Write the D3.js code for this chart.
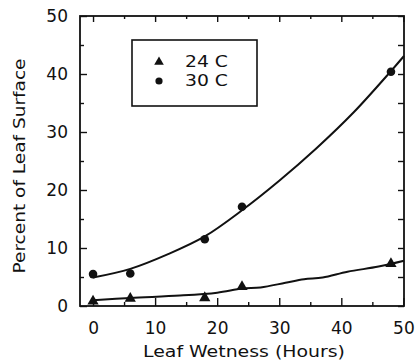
<!DOCTYPE html>
<html>
<head>
  <meta charset="utf-8">
  <script src="https://d3js.org/d3.v7.min.js"></script>
  <style>
  body { margin: 0; background: #fff; }
  text { font-family: "DejaVu Sans", sans-serif; fill: #111; }
  .tick line { stroke: #111; stroke-width: 1.4; }
  </style>
</head>
<body>
<svg id="chart" width="419" height="363"></svg>
<script>
// observed points
var hours = [0, 6, 18, 24, 48];
var pct24 = [0.8, 1.3, 1.4, 3.3, 7.3];
var pct30 = [5.5, 5.6, 11.5, 17.1, 40.4];

// fitted curves
var fit30X = [0, 6, 12, 18, 24, 30, 36, 42, 48, 50.1];
var fit30Y = [4.9, 6.4, 8.9, 12.0, 16.5, 21.6, 27.2, 33.4, 40.5, 43.1];
var fit24X = [0, 6, 14, 20, 24, 27, 31, 34, 37, 41, 46, 50.1];
var fit24Y = [1.0, 1.4, 1.8, 2.3, 3.0, 3.2, 4.0, 4.6, 4.9, 5.9, 6.8, 7.8];

var xMajor = [0, 10, 20, 30, 40, 50];
var xMinor = [5, 15, 25, 35, 45];
var yMajor = [0, 10, 20, 30, 40, 50];
var yMinor = [5, 15, 25, 35, 45];
var legendLabels = ["24 C", "30 C"];

var plotL = 80, plotR = 404, plotT = 16, plotB = 306;

var svg = d3.select("#chart");
var x = d3.scaleLinear().domain([-2.1, 50.1]).range([plotL, plotR]);
var y = d3.scaleLinear().domain([0, 50]).range([plotB, plotT]);

function clean(g) { g.select(".domain").remove(); }

// bottom axis
svg.append("g").attr("transform", "translate(0," + plotB + ")")
  .call(d3.axisBottom(x).tickValues(xMajor).tickSizeInner(-8).tickSizeOuter(0).tickPadding(16))
  .call(clean)
  .selectAll("text").style("font-size", "17px").style("font-family", "DejaVu Sans");
svg.append("g").attr("transform", "translate(0," + plotB + ")")
  .call(d3.axisBottom(x).tickValues(xMinor).tickSize(-4).tickFormat(""))
  .call(clean);

// top axis
svg.append("g").attr("transform", "translate(0," + plotT + ")")
  .call(d3.axisTop(x).tickValues(xMajor).tickSize(-6).tickFormat(""))
  .call(clean);
svg.append("g").attr("transform", "translate(0," + plotT + ")")
  .call(d3.axisTop(x).tickValues(xMinor).tickSize(-3).tickFormat(""))
  .call(clean);

// left axis
svg.append("g").attr("transform", "translate(" + plotL + ",0)")
  .call(d3.axisLeft(y).tickValues(yMajor).tickSizeInner(-7).tickSizeOuter(0).tickPadding(12))
  .call(clean)
  .selectAll("text").style("font-size", "17px").style("font-family", "DejaVu Sans");
svg.append("g").attr("transform", "translate(" + plotL + ",0)")
  .call(d3.axisLeft(y).tickValues(yMinor).tickSize(-4).tickFormat(""))
  .call(clean);

// right axis
svg.append("g").attr("transform", "translate(" + plotR + ",0)")
  .call(d3.axisRight(y).tickValues(yMajor.concat(yMinor)).tickSize(-6).tickFormat(""))
  .call(clean);

// frame
svg.append("rect")
  .attr("x", plotL).attr("y", plotT)
  .attr("width", plotR - plotL).attr("height", plotB - plotT)
  .attr("fill", "none").attr("stroke", "#111").attr("stroke-width", 1.8);

// curves
var line = d3.line().x(function(d) { return x(d[0]); }).y(function(d) { return y(d[1]); })
  .curve(d3.curveCatmullRom);
svg.append("path").datum(d3.zip(fit30X, fit30Y))
  .attr("d", line).attr("fill", "none").attr("stroke", "#111").attr("stroke-width", 2);
svg.append("path").datum(d3.zip(fit24X, fit24Y))
  .attr("d", line).attr("fill", "none").attr("stroke", "#111").attr("stroke-width", 2);

// markers
var tri = d3.symbol().type(d3.symbolTriangle).size(55);
svg.selectAll(".m24").data(d3.zip(hours, pct24)).enter().append("path")
  .attr("class", "m24").attr("d", tri)
  .attr("transform", function(d) { return "translate(" + x(d[0]) + "," + y(d[1]) + ")"; })
  .attr("fill", "#111");
svg.selectAll(".m30").data(d3.zip(hours, pct30)).enter().append("circle")
  .attr("class", "m30")
  .attr("cx", function(d) { return x(d[0]); })
  .attr("cy", function(d) { return y(d[1]); })
  .attr("r", 4.3).attr("fill", "#111");

// legend
var lg = svg.append("g");
lg.append("rect").attr("x", 132).attr("y", 40).attr("width", 125).attr("height", 66)
  .attr("fill", "#fff").attr("stroke", "#111").attr("stroke-width", 1.6);
lg.append("path").attr("d", d3.symbol().type(d3.symbolTriangle).size(40))
  .attr("transform", "translate(159,62)").attr("fill", "#111");
lg.append("circle").attr("cx", 159).attr("cy", 81).attr("r", 3.6).attr("fill", "#111");
lg.selectAll(".lt").data(legendLabels).enter().append("text")
  .attr("x", 185).attr("y", function(d, i) { return 67 + i * 19; })
  .attr("textLength", 43).attr("lengthAdjust", "spacingAndGlyphs")
  .style("font-size", "16px").text(function(d) { return d; });

// axis titles
svg.append("text")
  .attr("x", 244).attr("y", 357).attr("text-anchor", "middle")
  .attr("textLength", 202).attr("lengthAdjust", "spacingAndGlyphs")
  .style("font-size", "16px").text("Leaf Wetness (Hours)");
svg.append("text")
  .attr("transform", "translate(25,166) rotate(-90)")
  .attr("text-anchor", "middle")
  .attr("textLength", 215).attr("lengthAdjust", "spacingAndGlyphs")
  .style("font-size", "16px").text("Percent of Leaf Surface");
</script>
</body>
</html>
